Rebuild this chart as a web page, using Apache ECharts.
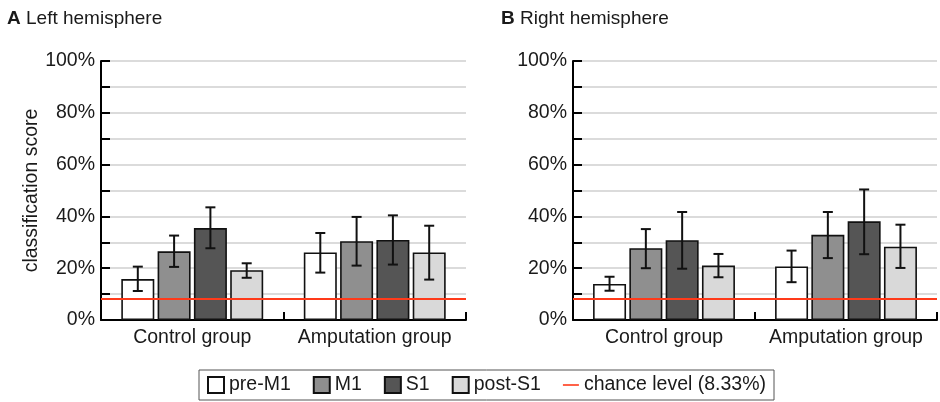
<!DOCTYPE html>
<html>
<head>
<meta charset="utf-8">
<script src="https://cdn.jsdelivr.net/npm/echarts@6/dist/echarts.min.js"></script>
<style>html,body{margin:0;padding:0;background:#fff;}#c{width:940px;height:402px;}</style>
</head>
<body>
<div id="c"></div>
<script>
// ---- data ----
var categories = ['Control group', 'Amputation group'];
var seriesNames = ['pre-M1', 'M1', 'S1', 'post-S1'];
var panelTitles = ['A', 'Left hemisphere', 'B', 'Right hemisphere'];
var chanceLevel = 8.33;
var chanceName = 'chance level (8.33%)';

// left hemisphere: [Control, Amputation]
var leftPreM1 = [15.8, 26.1];
var leftM1 = [26.5, 30.4];
var leftS1 = [35.5, 30.9];
var leftPostS1 = [19.2, 26.1];
var leftLow = [[11.2, 18.3], [20.5, 21.0], [27.7, 21.4], [16.3, 15.6]];
var leftHigh = [[20.6, 33.6], [32.6, 39.8], [43.5, 40.4], [21.9, 36.4]];

// right hemisphere
var rightPreM1 = [13.9, 20.7];
var rightM1 = [27.7, 32.9];
var rightS1 = [30.8, 38.1];
var rightPostS1 = [21.0, 28.3];
var rightLow = [[11.3, 14.6], [20.0, 23.9], [19.8, 25.4], [16.5, 20.1]];
var rightHigh = [[16.7, 26.8], [35.1, 41.7], [41.7, 50.4], [25.5, 36.8]];

// ---- styling ----
var FONT = '"Liberation Sans", Arial, Helvetica, sans-serif';
var TXT = '#1a1a1a';
var FS = 19.5;
var colors = ['#ffffff', '#8f8f8f', '#555555', '#d9d9d9'];
var BAR_W = 33, BAR_GAP = 0.1;

var chart = echarts.init(document.getElementById('c'), null, {renderer: 'canvas'});

var leftMeans = [leftPreM1, leftM1, leftS1, leftPostS1];
var rightMeans = [rightPreM1, rightM1, rightS1, rightPostS1];

function yAxis(gi, withName) {
  return {
    type: 'value', gridIndex: gi, min: 0, max: 100, interval: 10,
    name: withName ? 'classification score' : '',
    nameLocation: 'middle', nameGap: 59,
    nameTextStyle: {fontFamily: FONT, fontSize: FS, color: TXT},
    axisLine: {show: true, lineStyle: {color: '#000', width: 2}},
    axisTick: {show: true, inside: true, length: 9, lineStyle: {color: '#000', width: 2}},
    axisLabel: {fontFamily: FONT, fontSize: FS, color: TXT, margin: 6,
      formatter: function (v) { return v % 20 === 0 ? v + '%' : ''; }},
    splitLine: {show: true, lineStyle: {color: '#cfcfcf', width: 1.5}}
  };
}
function xAxis(gi) {
  return {
    type: 'category', gridIndex: gi, data: categories,
    axisLine: {show: true, lineStyle: {color: '#000', width: 2}},
    axisTick: {show: true, inside: true, length: 8, lineStyle: {color: '#000', width: 2}},
    axisLabel: {fontFamily: FONT, fontSize: FS, color: TXT, margin: 8, interval: 0, hideOverlap: false},
    splitLine: {show: false}
  };
}

var series = [];
function addPanel(gi, means, lows, highs) {
  seriesNames.forEach(function (nm, i) {
    series.push({
      type: 'bar', name: nm, xAxisIndex: gi, yAxisIndex: gi,
      data: means[i], barWidth: BAR_W, barGap: (BAR_GAP * 100) + '%',
      itemStyle: {color: colors[i], borderColor: '#111', borderWidth: 1.6},
      emphasis: {disabled: true}, z: 2
    });
  });
  var errData = [];
  seriesNames.forEach(function (nm, i) {
    categories.forEach(function (c, j) {
      errData.push([j, i, lows[i][j], highs[i][j]]);
    });
  });
  series.push({
    type: 'custom', name: 'err' + gi, xAxisIndex: gi, yAxisIndex: gi, z: 5,
    data: errData, silent: true,
    renderItem: function (params, api) {
      var step = BAR_W * (1 + BAR_GAP);
      var off = (api.value(1) - 1.5) * step;
      var lo = api.coord([api.value(0), api.value(2)]);
      var hi = api.coord([api.value(0), api.value(3)]);
      var x = lo[0] + off, cw = 5;
      var st = {stroke: '#111', lineWidth: 2};
      return {type: 'group', children: [
        {type: 'line', shape: {x1: x, y1: lo[1], x2: x, y2: hi[1]}, style: st},
        {type: 'line', shape: {x1: x - cw, y1: lo[1], x2: x + cw, y2: lo[1]}, style: st},
        {type: 'line', shape: {x1: x - cw, y1: hi[1], x2: x + cw, y2: hi[1]}, style: st}
      ]};
    }
  });
  series.push({
    type: 'line', name: chanceName, xAxisIndex: gi, yAxisIndex: gi,
    data: [], color: '#ff3a1a', lineStyle: {color: '#ff3a1a', width: 2}, z: 6,
    markLine: {silent: true, symbol: 'none', label: {show: false},
      lineStyle: {color: '#ff3a1a', width: 2, type: 'solid'},
      emphasis: {disabled: true},
      data: [{yAxis: chanceLevel}]}
  });
}
addPanel(0, leftMeans, leftLow, leftHigh);
addPanel(1, rightMeans, rightLow, rightHigh);

var option = {
  animation: false,
  backgroundColor: '#fff',
  textStyle: {fontFamily: FONT},
  title: [
    {text: '{b|' + panelTitles[0] + '} ' + panelTitles[1], left: 7, top: 9, padding: 0,
      textStyle: {fontFamily: FONT, fontSize: 19, fontWeight: 'normal', color: TXT,
        rich: {b: {fontFamily: FONT, fontSize: 19, fontWeight: 'bold', color: TXT}}}},
    {text: '{b|' + panelTitles[2] + '} ' + panelTitles[3], left: 501, top: 9, padding: 0,
      textStyle: {fontFamily: FONT, fontSize: 19, fontWeight: 'normal', color: TXT,
        rich: {b: {fontFamily: FONT, fontSize: 19, fontWeight: 'bold', color: TXT}}}}
  ],
  grid: [
    {left: 101, top: 61, width: 365, height: 259},
    {left: 573, top: 61, width: 364, height: 259}
  ],
  xAxis: [xAxis(0), xAxis(1)],
  yAxis: [yAxis(0, true), yAxis(1, false)],
  legend: {
    left: 199, top: 370, padding: [5, 8, 5, 8], itemGap: 22,
    itemWidth: 16, itemHeight: 16,
    borderColor: '#555', borderWidth: 1, selectedMode: false,
    textStyle: {fontFamily: FONT, fontSize: FS, color: TXT},
    data: seriesNames.map(function (n) { return {name: n, icon: 'rect'}; }).concat([
      {name: chanceName, icon: 'path://M0,0H20V2H0Z', itemStyle: {color: '#ff3a1a'}}])
  },
  series: series
};
chart.setOption(option);
</script>
</body>
</html>
